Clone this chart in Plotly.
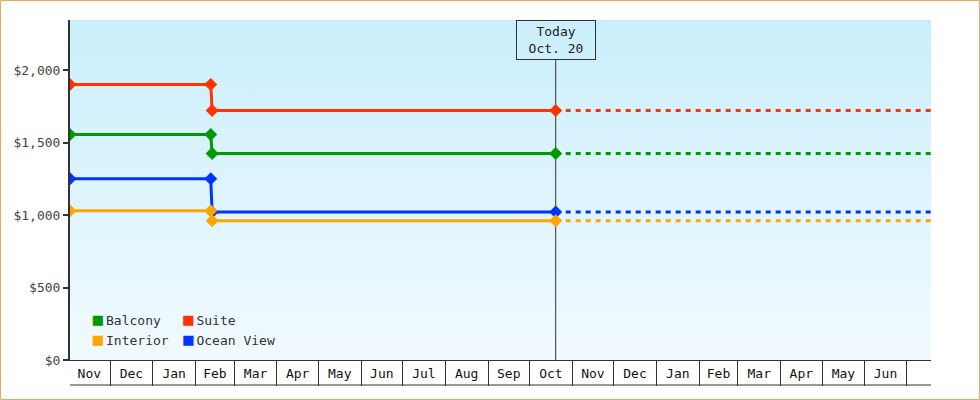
"""Cabin price history with projection past today"""

import base64

import plotly.graph_objects as go

CABINS = ["Balcony", "Suite", "Interior", "Ocean View"]
COLORS = {
    "Balcony": "#009900",
    "Suite": "#ff3300",
    "Interior": "#ffa500",
    "Ocean View": "#0033ff",
}

# price points: start, just before drop, just after drop, today
DATES = ["2016-11-02", "2017-02-12", "2017-02-13", "2017-10-20"]
PRICES = {
    "Suite": [1900, 1900, 1720, 1720],
    "Balcony": [1555, 1555, 1425, 1425],
    "Ocean View": [1250, 1250, 1020, 1020],
    "Interior": [1030, 1030, 960, 960],
}

TODAY = "2017-10-20"
TODAY_LABEL = "Today<br>Oct. 20"
END_DATE = "2018-07-19"

Y_TICKS = [0, 500, 1000, 1500, 2000]
Y_LABELS = ["$0", "$500", "$1,000", "$1,500", "$2,000"]

FONT = "DejaVu Sans Mono"
AXIS = "#333333"

# light-blue to near-white background gradient for the plot area
svg = (
    '<svg xmlns="http://www.w3.org/2000/svg" width="10" height="100" '
    'preserveAspectRatio="none"><defs><linearGradient id="g" x1="0" y1="0" '
    'x2="0" y2="1"><stop offset="0" stop-color="#caeffc"/>'
    '<stop offset="1" stop-color="#f1faff"/></linearGradient></defs>'
    '<rect width="10" height="100" fill="url(#g)"/></svg>'
)
bg_uri = "data:image/svg+xml;base64," + base64.b64encode(svg.encode()).decode()

fig = go.Figure()

for cabin in ["Suite", "Balcony", "Ocean View", "Interior"]:
    prices = PRICES[cabin]
    fig.add_trace(
        go.Scatter(
            x=[TODAY, END_DATE],
            y=[prices[-1], prices[-1]],
            mode="lines",
            line=dict(color=COLORS[cabin], width=3, dash="5px,5px"),
            showlegend=False,
            hoverinfo="skip",
        )
    )
    fig.add_trace(
        go.Scatter(
            x=DATES,
            y=prices,
            mode="lines+markers",
            line=dict(color=COLORS[cabin], width=3),
            marker=dict(symbol="diamond", size=10, color=COLORS[cabin]),
            name=cabin,
            showlegend=False,
        )
    )

# legend entries: coloured square glyph right before the name, two columns
for i, cabin in enumerate(CABINS):
    fig.add_trace(
        go.Scatter(
            x=[None],
            y=[None],
            mode="lines",
            line=dict(width=0, color="rgba(0,0,0,0)"),
            name=(
                f'<span style="color:{COLORS[cabin]};font-size:17px">■</span>'
                f'<span style="font-size:5px">\u00a0</span>{cabin}'
            ),
            legend="legend" if i % 2 == 0 else "legend2",
        )
    )

legend_style = dict(
    bgcolor="rgba(0,0,0,0)",
    font=dict(family=FONT, size=13, color="#333"),
    yanchor="top",
    tracegroupgap=0,
    itemwidth=30,
)

fig.update_layout(
    width=980,
    height=400,
    margin=dict(l=70, r=49, t=20, b=40),
    paper_bgcolor="white",
    plot_bgcolor="rgba(0,0,0,0)",
    font=dict(family=FONT, size=13, color="#222"),
    legend=dict(x=-0.02, y=0.162, **legend_style),
    legend2=dict(x=0.085, y=0.162, **legend_style),
    xaxis=dict(
        type="date",
        range=[DATES[0], END_DATE],
        dtick="M1",
        tick0="2016-11-01",
        tickformat="%b",
        ticklabelmode="period",
        ticklabeloverflow="hide past domain",
        ticks="outside",
        ticklen=25,
        tickwidth=1,
        tickcolor=AXIS,
        ticklabelstandoff=-24,
        tickfont=dict(family=FONT, size=13, color="#111"),
        showline=True,
        linecolor=AXIS,
        linewidth=1,
        showgrid=False,
        zeroline=False,
    ),
    yaxis=dict(
        range=[0, 2345],
        tickvals=Y_TICKS,
        ticktext=Y_LABELS,
        ticks="outside",
        ticklen=5,
        tickwidth=2,
        tickcolor=AXIS,
        tickfont=dict(family=FONT, size=13, color="#444"),
        showline=True,
        linecolor=AXIS,
        linewidth=2,
        showgrid=False,
        zeroline=False,
    ),
    images=[
        dict(
            source=bg_uri,
            xref="paper",
            yref="paper",
            x=0,
            y=1,
            sizex=1,
            sizey=1,
            sizing="stretch",
            layer="below",
        )
    ],
    shapes=[
        # today marker line
        dict(
            type="line",
            xref="x",
            yref="paper",
            x0=TODAY,
            x1=TODAY,
            y0=0,
            y1=0.884,
            line=dict(color=AXIS, width=1),
            layer="below",
        ),
        # bottom rule under the month cells
        dict(
            type="line",
            xref="paper",
            yref="paper",
            x0=0,
            x1=1,
            y0=-25 / 340,
            y1=-25 / 340,
            line=dict(color=AXIS, width=1),
        ),
        # outer frame
        dict(
            type="rect",
            xref="paper",
            yref="paper",
            x0=-69.5 / 861,
            x1=1 + 48.5 / 861,
            y0=-39.5 / 340,
            y1=1 + 19.5 / 340,
            line=dict(color="#eaa860", width=1),
        ),
    ],
    annotations=[
        dict(
            x=TODAY,
            y=1,
            xref="x",
            yref="paper",
            yanchor="top",
            text=TODAY_LABEL,
            showarrow=False,
            width=72,
            height=32,
            borderpad=3,
            bordercolor=AXIS,
            borderwidth=1,
            font=dict(family=FONT, size=13, color="#222"),
        )
    ],
)

fig.write_html(
    "out.html",
    config={"displayModeBar": False},
    post_script="document.body.style.margin = '0';",
)
